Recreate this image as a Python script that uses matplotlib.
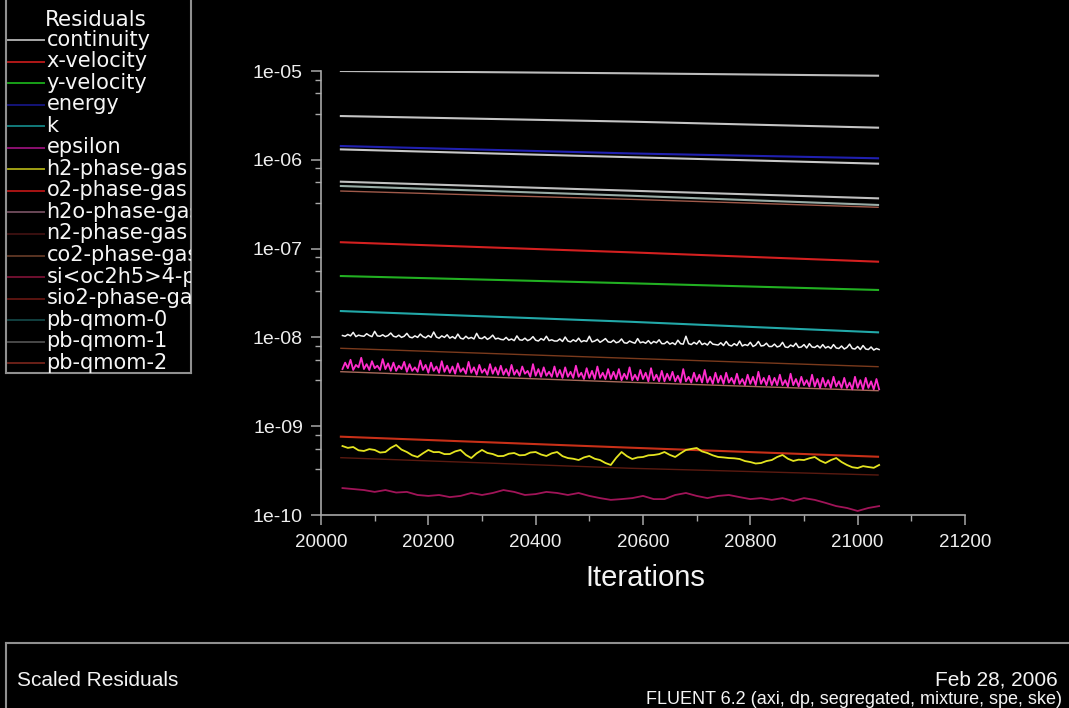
import numpy as np
import matplotlib.pyplot as plt
from matplotlib.lines import Line2D
from matplotlib.ticker import MultipleLocator, LogLocator, FuncFormatter, NullFormatter

W, H = 1069, 708

# iteration samples
iter_line = [20037, 20576, 21038]
iter_5 = np.arange(20040, 21041, 5)
iter_10 = np.arange(20040, 21041, 10)
iter_20 = np.arange(20040, 21041, 20)

# smooth residual histories (start, middle, end)
continuity = [1.00e-05, 9.42e-06, 8.85e-06]
pb_qmom_1 = [3.11e-06, 2.69e-06, 2.30e-06]
energy = [1.43e-06, 1.18e-06, 1.04e-06]
pb_qmom_3 = [1.31e-06, 1.07e-06, 9.04e-07]
pb_qmom_2 = [5.67e-07, 4.49e-07, 3.68e-07]
pb_qmom_0 = [5.07e-07, 3.94e-07, 3.10e-07]
h2o = [4.45e-07, 3.59e-07, 2.92e-07]
x_velocity = [1.18e-07, 9.08e-08, 7.12e-08]
y_velocity = [4.91e-08, 4.07e-08, 3.42e-08]
k = [1.98e-08, 1.50e-08, 1.14e-08]
co2 = [7.54e-09, 5.81e-09, 4.68e-09]
sio2 = [4.11e-09, 3.12e-09, 2.51e-09]
o2 = [7.62e-10, 5.73e-10, 4.53e-10]
n2 = [4.42e-10, 3.36e-10, 2.82e-10]

# noisy residual histories
pb_qmom_4 = [  # x 1e-9, every 5 iterations
    10.5, 10.3, 10.8, 10.4, 11.4, 10.2, 10.6, 10.4, 10.3, 11.0, 10.5, 10.2, 11.7, 10.4, 10.3, 10.7, 10.2, 10.5, 11.2, 10.3,
    10.1, 10.6, 10.0, 10.3, 11.1, 10.1, 9.9, 10.4, 10.0, 10.9, 10.2, 9.9, 10.5, 10.0, 11.5, 10.1, 9.8, 10.4, 10.0, 10.7,
    9.8, 10.2, 9.7, 10.9, 9.8, 9.6, 10.3, 9.7, 10.0, 9.6, 11.1, 9.8, 9.7, 10.2, 9.5, 9.9, 10.6, 9.6, 9.8, 9.5,
    9.4, 10.0, 9.3, 9.6, 9.2, 10.4, 9.4, 9.3, 9.8, 9.2, 9.5, 10.2, 9.3, 9.1, 9.7, 9.3, 10.3, 9.2, 9.4, 9.1,
    9.1, 9.6, 9.0, 10.1, 9.1, 8.9, 9.4, 9.0, 9.8, 8.9, 9.2, 9.0, 10.3, 8.9, 9.1, 9.5, 8.8, 9.2, 9.7, 8.9,
    8.8, 9.3, 8.7, 8.9, 9.6, 8.7, 8.6, 9.1, 8.8, 8.6, 9.7, 8.7, 8.9, 8.6, 9.2, 8.5, 9.0, 8.7, 9.4, 8.5,
    8.5, 9.0, 8.4, 8.7, 8.3, 9.3, 8.5, 8.4, 10.3, 8.5, 8.3, 8.8, 8.4, 9.2, 8.3, 8.6, 8.2, 9.0, 8.4, 8.3,
    8.2, 8.7, 8.1, 9.0, 8.2, 8.0, 8.5, 8.1, 9.1, 8.0, 8.3, 8.1, 8.8, 7.9, 8.2, 9.0, 8.0, 8.1, 8.6, 7.9,
    7.9, 8.4, 7.8, 8.0, 8.8, 7.8, 7.7, 8.2, 7.9, 8.6, 7.7, 7.8, 8.3, 7.6, 8.5, 7.8, 7.7, 8.1, 7.6, 8.3,
    7.6, 7.9, 7.5, 8.3, 7.6, 7.5, 8.0, 7.4, 7.7, 8.4, 7.5, 7.4, 7.9, 7.3, 8.1, 7.4, 7.3, 7.8, 7.2, 7.5,
    7.3,
]
epsilon = [  # x 1e-9, every 5 iterations
    4.4, 5.2, 4.5, 5.6, 4.3, 4.9, 4.6, 5.9, 4.4, 5.0, 4.3, 5.4, 4.5, 4.8, 4.3, 5.7, 4.4, 5.1, 4.2, 5.2,
    4.2, 4.8, 4.4, 5.3, 4.1, 5.0, 4.2, 4.6, 4.1, 5.5, 4.3, 4.9, 4.0, 5.2, 4.2, 4.7, 4.0, 5.4, 4.1, 4.8,
    4.0, 4.7, 3.9, 5.1, 4.1, 4.5, 3.9, 5.3, 4.0, 4.6, 3.8, 4.9, 4.0, 4.4, 3.8, 5.0, 3.9, 4.6, 3.8, 4.8,
    3.8, 4.4, 3.7, 4.9, 3.8, 4.3, 3.7, 4.7, 3.9, 4.2, 3.6, 5.0, 3.7, 4.4, 3.6, 4.6, 3.7, 4.1, 3.6, 4.7,
    3.6, 4.3, 3.5, 4.6, 3.6, 4.1, 3.5, 4.8, 3.6, 4.0, 3.4, 4.5, 3.5, 4.2, 3.4, 4.7, 3.5, 4.0, 3.4, 4.4,
    3.4, 4.1, 3.4, 4.4, 3.3, 3.9, 3.4, 4.6, 3.3, 3.8, 3.3, 4.3, 3.4, 4.0, 3.2, 4.5, 3.3, 3.8, 3.2, 4.2,
    3.2, 3.9, 3.3, 4.1, 3.2, 3.7, 3.1, 4.4, 3.2, 3.6, 3.1, 4.0, 3.2, 3.8, 3.1, 4.3, 3.1, 3.6, 3.0, 4.0,
    3.1, 3.7, 3.0, 4.0, 3.1, 3.5, 3.0, 3.9, 3.0, 3.4, 2.9, 3.8, 3.0, 3.6, 2.9, 4.1, 3.0, 3.5, 2.9, 3.7,
    2.9, 3.5, 2.9, 3.8, 2.9, 3.3, 2.8, 3.9, 2.9, 3.4, 2.8, 3.6, 2.9, 3.3, 2.8, 3.8, 2.8, 3.4, 2.7, 3.5,
    2.8, 3.3, 2.7, 3.6, 2.8, 3.2, 2.7, 3.5, 2.7, 3.1, 2.6, 3.6, 2.7, 3.3, 2.6, 3.5, 2.7, 3.2, 2.6, 3.4,
    2.6,
]
h2 = [  # x 1e-10, every 10 iterations
    5.98, 5.70, 5.83, 5.35, 5.26, 5.52, 5.40, 5.05, 5.12, 5.70,
    6.14, 5.45, 5.12, 4.70, 4.50, 4.95, 5.40, 5.10, 5.12, 4.85,
    4.86, 5.20, 5.40, 4.75, 4.38, 4.95, 5.40, 5.00, 4.86, 4.60,
    4.62, 4.90, 4.99, 4.70, 4.74, 5.05, 5.12, 4.80, 4.62, 4.95,
    5.12, 4.60, 4.38, 4.30, 4.16, 4.45, 4.62, 4.30, 4.16, 3.85,
    3.66, 4.40, 5.12, 4.60, 4.27, 4.45, 4.50, 4.70, 4.74, 4.85,
    5.12, 4.75, 4.50, 4.95, 5.40, 5.55, 5.68, 5.20, 4.99, 4.70,
    4.50, 4.45, 4.38, 4.35, 4.27, 4.05, 3.95, 3.80, 3.85, 4.05,
    4.16, 4.50, 4.74, 4.30, 4.06, 4.20, 4.16, 4.35, 4.50, 4.10,
    3.85, 4.15, 4.38, 3.95, 3.66, 3.45, 3.38, 3.55, 3.47, 3.40,
    3.66,
]
si_oc2h5_4 = [  # x 1e-10, every 20 iterations
    2.01, 1.96, 1.91, 1.82, 1.91, 1.79, 1.82, 1.68, 1.64, 1.68,
    1.59, 1.64, 1.77, 1.68, 1.77, 1.91, 1.82, 1.68, 1.72, 1.82,
    1.77, 1.68, 1.77, 1.64, 1.55, 1.48, 1.51, 1.55, 1.64, 1.51,
    1.51, 1.68, 1.77, 1.64, 1.55, 1.64, 1.68, 1.59, 1.51, 1.55,
    1.48, 1.55, 1.44, 1.55, 1.48, 1.37, 1.26, 1.20, 1.11, 1.20,
    1.26,
]

legend_labels = ['continuity', 'x-velocity', 'y-velocity', 'energy', 'k', 'epsilon',
                 'h2-phase-gas', 'o2-phase-gas', 'h2o-phase-gas', 'n2-phase-gas',
                 'co2-phase-gas', 'si<oc2h5>4-phase-gas', 'sio2-phase-gas',
                 'pb-qmom-0', 'pb-qmom-1', 'pb-qmom-2']
legend_colors = ['#a8a8a8', '#b01818', '#18a018', '#141478', '#127a7a', '#8a1070',
                 '#a0a014', '#a81414', '#6a4858', '#3a1010', '#5a3422', '#701030',
                 '#5a1410', '#124040', '#484848', '#6a2018']

fig = plt.figure(figsize=(W / 100, H / 100), dpi=100, facecolor='black')
ax = fig.add_axes([321 / W, 1 - 515 / H, 644 / W, 444 / H], facecolor='black')

# dim, thin histories first
thin = [(co2, '#7a3a1c'), (sio2, '#a86a5a'), (n2, '#5a1a10'), (h2o, '#a05a4a')]
for vals, col in thin:
    ax.plot(iter_line, vals, color=col, lw=1.0)

smooth = [(continuity, '#bcbcbc'), (pb_qmom_1, '#c4c4c4'), (pb_qmom_3, '#c8c8c8'),
          (pb_qmom_2, '#c0c0c0'), (pb_qmom_0, '#98aca6'), (energy, '#2020b0'),
          (x_velocity, '#d42020'), (y_velocity, '#22b022'), (k, '#22a8a8'),
          (o2, '#c83018')]
for vals, col in smooth:
    ax.plot(iter_line, vals, color=col, lw=1.5)

ax.plot(iter_20, np.array(si_oc2h5_4) * 1e-10, color='#a01458', lw=1.3)
ax.plot(iter_10, np.array(h2) * 1e-10, color='#e4e420', lw=1.3)
ax.plot(iter_5, np.array(epsilon) * 1e-9, color='#ff2ccc', lw=1.3)
ax.plot(iter_5, np.array(pb_qmom_4) * 1e-9, color='#f4f4f4', lw=1.1)

ax.set_yscale('log')
ax.set_xlim(20000, 21200)
ax.set_ylim(1e-10, 1e-5)
for side in ('top', 'right'):
    ax.spines[side].set_visible(False)
for side in ('left', 'bottom'):
    ax.spines[side].set_color('#a8a8a8')
    ax.spines[side].set_linewidth(1.2)

ax.xaxis.set_major_locator(MultipleLocator(200))
ax.xaxis.set_minor_locator(MultipleLocator(100))
ax.xaxis.set_major_formatter(FuncFormatter(lambda v, p: f'{v:.0f}'))
ax.yaxis.set_major_locator(LogLocator(base=10, numticks=12))
ax.yaxis.set_minor_locator(LogLocator(base=10, subs=(3.3, 5.6, 8.0), numticks=12))
ax.yaxis.set_major_formatter(FuncFormatter(lambda v, p: f'{v:.0e}'))
ax.yaxis.set_minor_formatter(NullFormatter())
ax.tick_params(which='both', direction='out', colors='#a8a8a8', labelcolor='#eeeeee')
ax.tick_params(which='major', length=7, width=1.1, pad=7, labelsize=13.5)
ax.tick_params(axis='y', which='major', labelsize=14, pad=6)
ax.tick_params(which='minor', length=4, width=1.0)
for lab in ax.get_xticklabels() + ax.get_yticklabels():
    lab.set_family('Liberation Sans')

fig.text(645 / W, 1 - 578 / H, 'Iterations', ha='center', va='center',
         fontsize=21, color='#f4f4f4', family='Liberation Sans')

# legend panel
lg = fig.add_axes([6 / W, 1 - 373 / H, 185 / W, 376 / H], facecolor='black')
lg.set_xlim(6, 191)
lg.set_ylim(373, -3)
lg.set_xticks([])
lg.set_yticks([])
for sp in lg.spines.values():
    sp.set_color('#909090')
    sp.set_linewidth(1.5)
lg.text(45, 26, 'Residuals', ha='left', va='baseline', fontsize=15.5,
        color='#f6f6f6', family='DejaVu Sans', clip_on=True)
for i, (lab, col) in enumerate(zip(legend_labels, legend_colors)):
    y = 40 + 21.55 * i
    lg.plot([8, 43.5], [y, y], color=col, lw=1.4)
    lg.text(46.5, y + 5.5, lab, ha='left', va='baseline', fontsize=15,
            color='#f6f6f6', family='DejaVu Sans', clip_on=True)

# footer panel
fig.add_artist(Line2D([6 / W, 1.0], [1 - 643 / H] * 2, color='#909090', lw=1.5))
fig.add_artist(Line2D([6 / W] * 2, [0.0, 1 - 643 / H], color='#909090', lw=1.5))
fig.text(17 / W, 1 - 680 / H, 'Scaled Residuals', ha='left', va='center',
         fontsize=15, color='#f4f4f4', family='Liberation Sans')
fig.text(1058 / W, 1 - 680 / H, 'Feb 28, 2006', ha='right', va='center',
         fontsize=15, color='#f4f4f4', family='Liberation Sans')
fig.text(1062 / W, 1 - 704 / H, 'FLUENT 6.2 (axi, dp, segregated, mixture, spe, ske)',
         ha='right', va='baseline', fontsize=13, color='#f4f4f4', family='Liberation Sans')

fig.savefig('out.png', dpi=100, facecolor='black')
